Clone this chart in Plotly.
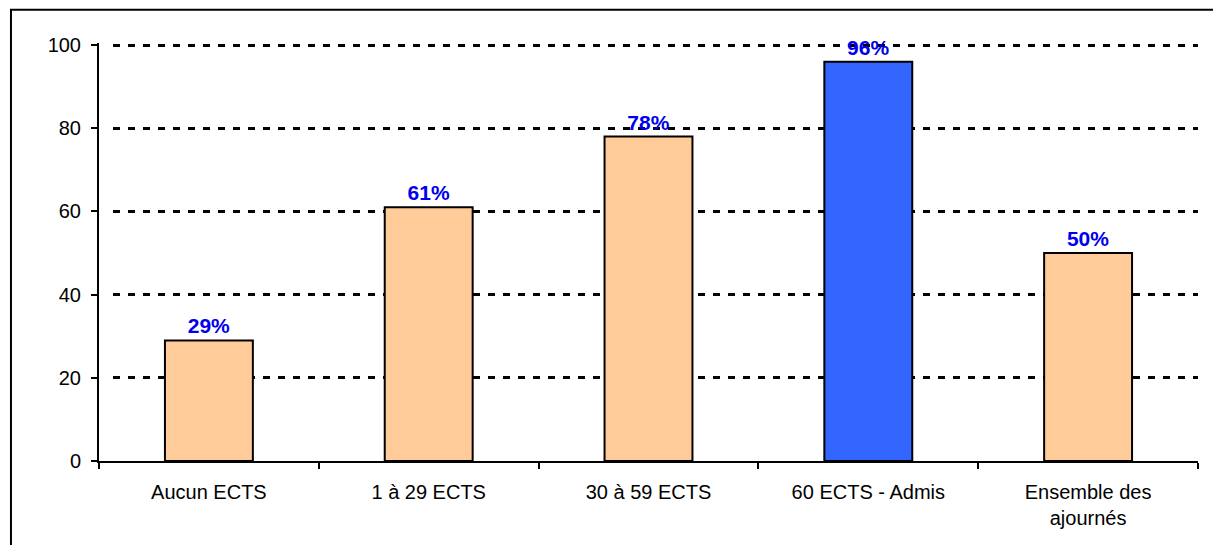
import plotly.graph_objects as go

# data
categories = ["Aucun ECTS", "1 à 29 ECTS", "30 à 59 ECTS", "60 ECTS - Admis", "Ensemble des<br>ajournés"]
values = [29, 61, 78, 96, 50]
labels = ["29%", "61%", "78%", "96%", "50%"]
bar_colors = ["#FFCC99", "#FFCC99", "#FFCC99", "#3366FF", "#FFCC99"]

fig = go.Figure()
fig.add_trace(go.Bar(
    x=categories,
    y=values,
    text=labels,
    textposition="outside",
    constraintext="none",
    textfont=dict(family="Arial, Liberation Sans", size=21, color="#0000EE", weight="bold"),
    marker=dict(color=bar_colors, line=dict(color="black", width=2)),
    width=0.4,
    cliponaxis=False,
))

# page has an 8px body margin, so the figure is 8px smaller than the window
fig.update_layout(
    width=1213, height=537,
    margin=dict(l=91, r=23, t=35, b=84),
    plot_bgcolor="white", paper_bgcolor="white",
    font=dict(family="Arial, Liberation Sans", size=20, color="black"),
    showlegend=False,
)

# dashed grid starting a little away from the axis, like the original
grid_dash = "0px,14px," + ",".join(["7px,8px"] * 74)

fig.update_yaxes(
    range=[0, 100.5], tickvals=[0, 20, 40, 60, 80, 100],
    showline=True, linecolor="black", linewidth=2,
    ticks="outside", ticklen=6, tickcolor="black", tickwidth=2,
    ticklabelstandoff=6,
    showgrid=True, gridcolor="black", gridwidth=2.5, griddash=grid_dash,
    zeroline=False,
)
fig.update_xaxes(
    showline=True, linecolor="black", linewidth=2,
    ticks="outside", ticklen=6, tickcolor="black", tickwidth=2,
    tickson="boundaries",
    ticklabelstandoff=12,
)

# outer frame of the chart
fig.add_shape(type="path", xref="paper", yref="paper",
              path="M -0.0801 -0.3 L -0.0801 1.0793 L 1.05 1.0793",
              line=dict(color="black", width=2))

fig.write_html("out.html")
